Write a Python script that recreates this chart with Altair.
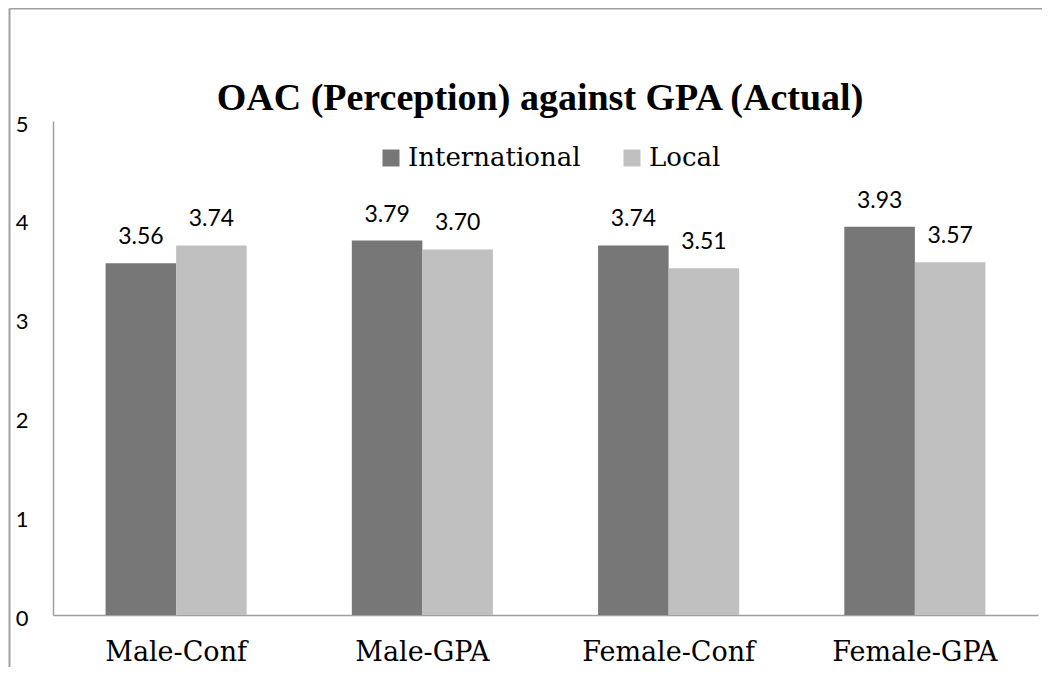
import altair as alt
import pandas as pd

categories = ["Male-Conf", "Male-GPA", "Female-Conf", "Female-GPA"]
series = ["International", "Local"]
international = [3.56, 3.79, 3.74, 3.93]
local = [3.74, 3.70, 3.51, 3.57]
y_ticks = [0, 1, 2, 3, 4, 5]
colors = ["#777777", "#c0c0c0"]
title_text = "OAC (Perception) against GPA (Actual)"

rows = []
for c, a, b in zip(categories, international, local):
    rows.append({"category": c, "series": series[0], "value": a})
    rows.append({"category": c, "series": series[1], "value": b})
df = pd.DataFrame(rows)

base = alt.Chart(df).encode(
    x=alt.X(
        "category:N",
        sort=categories,
        scale=alt.Scale(paddingInner=0.427, paddingOuter=0.2135),
        axis=alt.Axis(
            title=None,
            labelAngle=0,
            ticks=False,
            tickSize=0,
            grid=False,
            labelFont="DejaVu Serif",
            labelFontSize=27,
            labelColor="black",
            labelBaseline="alphabetic",
            labelPadding=45,
            labelLimit=0,
            domainColor="#a0a0a0",
            domainWidth=1.5,
        ),
    ),
    xOffset=alt.XOffset("series:N", sort=series, scale=alt.Scale(paddingInner=0, paddingOuter=0)),
    y=alt.Y(
        "value:Q",
        scale=alt.Scale(domain=[0, 5], nice=False),
        axis=alt.Axis(
            title=None,
            values=y_ticks,
            grid=False,
            ticks=False,
            tickSize=0,
            labelFont="Lato",
            labelFontSize=22,
            labelColor="black",
            labelPadding=25,
            labelOffset=3,
            domainColor="#a0a0a0",
            domainWidth=1.5,
        ),
    ),
)

bars = base.mark_bar().encode(
    color=alt.Color(
        "series:N",
        sort=series,
        scale=alt.Scale(domain=series, range=colors),
        legend=alt.Legend(
            title=None,
            orient="none",
            legendX=325,
            legendY=24,
            direction="horizontal",
            symbolType="square",
            symbolSize=289,
            symbolStrokeWidth=0,
            labelFont="DejaVu Serif",
            labelFontSize=26,
            labelColor="black",
            labelOffset=4,
            labelLimit=0,
            columnPadding=38,
            padding=0,
        ),
    )
)

labels = base.mark_text(
    dy=-19, baseline="alphabetic", font="Lato", fontSize=23, color="black"
).encode(text=alt.Text("value:Q", format=".2f"))

frame_data = alt.Data(values=[{"k": 0}])
left_border = alt.Chart(frame_data).mark_rule(color="#a0a0a0", strokeWidth=2).encode(
    x=alt.value(-43.5), y=alt.value(-112.5), y2=alt.value(600)
)
top_border = alt.Chart(frame_data).mark_rule(color="#a0a0a0", strokeWidth=2).encode(
    x=alt.value(-43.5), x2=alt.value(989), y=alt.value(-112.5)
)
title = alt.Chart(alt.Data(values=[{"t": title_text}])).mark_text(
    font="Liberation Serif",
    fontSize=38,
    fontWeight="bold",
    color="black",
    align="center",
    baseline="alphabetic",
).encode(text="t:N", x=alt.value(487), y=alt.value(-11))

chart = (
    alt.layer(bars, labels, left_border, top_border, title)
    .properties(
        width=985,
        height=494,
        autosize=alt.AutoSizeParams(type="none"),
        padding={"left": 45, "top": 113, "right": 5, "bottom": 52},
        view=alt.ViewBackground(stroke=None, fill=None),
    )
    .configure_view(stroke=None, strokeWidth=0)
    .configure_axis(grid=False)
    .configure(background="white")
)

chart.save("out.html", embed_options={"renderer": "svg", "actions": False})
